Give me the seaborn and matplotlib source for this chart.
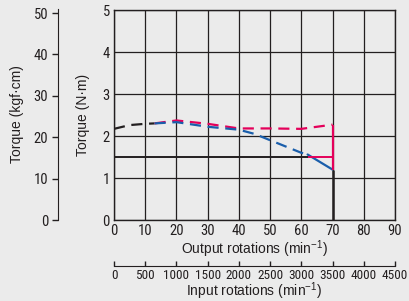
import numpy as np
import pandas as pd
import matplotlib
matplotlib.use('Agg')
import matplotlib.pyplot as plt
import seaborn as sns

# curve data (output rpm, torque N·m)
black_x = [0, 5, 10, 13]
black_y = [2.17, 2.26, 2.29, 2.30]
red_x = [13, 20, 30, 40, 50, 60, 70]
red_y = [2.30, 2.37, 2.29, 2.18, 2.18, 2.17, 2.27]
blue_x = [13, 20, 30, 40, 45, 50, 55, 60, 62]
blue_y = [2.30, 2.33, 2.22, 2.15, 2.05, 1.90, 1.75, 1.60, 1.56]
blue_solid_x = [62, 70]
blue_solid_y = [1.56, 1.20]
rated_torque = 1.5
rated_speed = 70

out_ticks = list(range(0, 100, 10))
in_ticks = list(range(0, 5000, 500))
kgf_ticks = list(range(0, 60, 10))

bg = '#ebebeb'
ink = '#231f20'
red = '#e4005a'
blue = '#1a5eab'

sns.set_style('white', {'axes.facecolor': bg, 'figure.facecolor': bg})
narrow = ['Roboto Condensed', 'Liberation Sans Narrow', 'Liberation Sans', 'DejaVu Sans']
regular = ['Liberation Sans', 'DejaVu Sans']
plt.rcParams['font.family'] = narrow
plt.rcParams['mathtext.fontset'] = 'custom'
plt.rcParams['mathtext.rm'] = 'Liberation Sans'

fig = plt.figure(figsize=(4.09, 3.01), dpi=100)
fig.patch.set_facecolor(bg)

W, H = 409, 301
ax = fig.add_axes([114 / W, (H - 220) / H, 281 / W, 210 / H])
ax.set_facecolor(bg)

sns.lineplot(x=black_x, y=black_y, ax=ax, color=ink, lw=1.6, linestyle=(0, (5, 3)))
sns.lineplot(x=red_x, y=red_y, ax=ax, color=red, lw=1.6, linestyle=(0, (5, 3)))
sns.lineplot(x=blue_x, y=blue_y, ax=ax, color=blue, lw=1.6, linestyle=(0, (5, 3)))
sns.lineplot(x=blue_solid_x, y=blue_solid_y, ax=ax, color=blue, lw=1.6)

ax.hlines(rated_torque, 0, 62, color=ink, lw=1.4, zorder=3)
ax.hlines(rated_torque, 62, rated_speed, color=red, lw=1.4, zorder=3)
ax.vlines(rated_speed, 0, blue_solid_y[-1], color=ink, lw=1.8, zorder=3)
ax.vlines(rated_speed, blue_solid_y[-1], red_y[-1], color=red, lw=1.6, zorder=3)

ax.set_xlim(0, 90)
ax.set_ylim(0, 5)
ax.set_xticks(out_ticks)
ax.set_yticks(range(0, 6))
ax.grid(True, color=ink, lw=0.9)
ax.set_axisbelow(True)
for s in ax.spines.values():
    s.set_color(ink)
    s.set_linewidth(1.0)
ax.tick_params(length=0, pad=3, labelsize=10.5, colors=ink)
ax.set_xlabel('Output rotations (min$^{-1}$)', family=regular, fontsize=10, color=ink, labelpad=0)
ax.set_ylabel('Torque (N·m)', family=regular, fontsize=10, color=ink, labelpad=9)

# kgf·cm axis on the far left
kax = fig.add_axes([58 / W, (H - 220) / H, 0.001, 211 / H])
kax.set_ylim(0, 5 * 10.197)
kax.set_xticks([])
kax.set_yticks(kgf_ticks)
for k in ['top', 'right', 'bottom']:
    kax.spines[k].set_visible(False)
kax.spines['left'].set_color(ink)
kax.patch.set_alpha(0)
kax.tick_params(axis='y', left=True, length=4, width=1, pad=3, labelsize=10.5, colors=ink)
kax.set_ylabel('Torque (kgf·cm)', family=regular, fontsize=10, color=ink, labelpad=7)

# input rotations axis at the bottom
iax = fig.add_axes([114 / W, (H - 266) / H, 281 / W, 0.001])
iax.set_xlim(0, 4500)
iax.set_xticks(in_ticks)
iax.set_yticks([])
for k in ['top', 'right', 'left']:
    iax.spines[k].set_visible(False)
iax.spines['bottom'].set_color(ink)
iax.patch.set_alpha(0)
iax.tick_params(axis='x', bottom=True, direction='in', length=3.5, width=1, pad=2, labelsize=9.5, colors=ink)
iax.set_xlabel('Input rotations (min$^{-1}$)', family=regular, fontsize=10, color=ink, labelpad=-1)

fig.savefig('out.png', dpi=100, facecolor=bg)
